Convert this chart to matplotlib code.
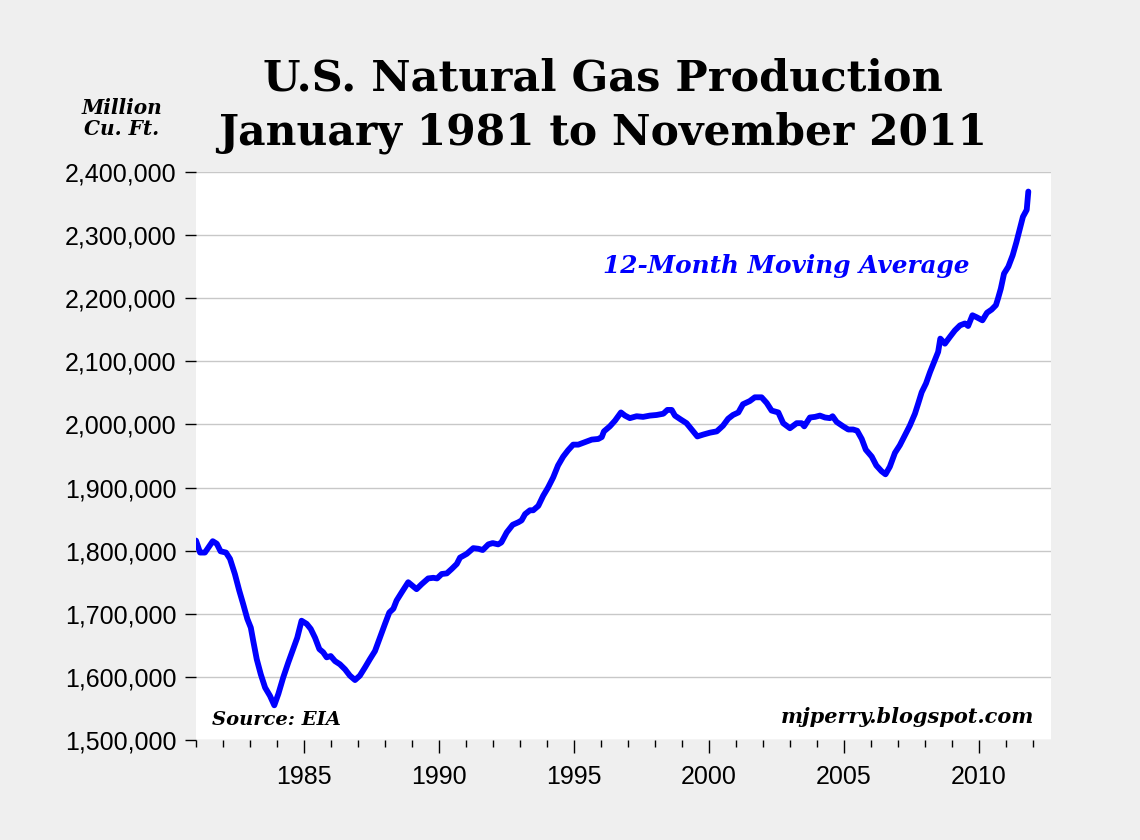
import matplotlib
matplotlib.use("Agg")
import matplotlib.pyplot as plt
from matplotlib.ticker import FuncFormatter, MultipleLocator

# 12-month moving average (year, thousand million cu. ft.)
years = [
    1981.00, 1981.15, 1981.33, 1981.46, 1981.62, 1981.77, 1981.91, 1982.11, 1982.26, 1982.44,
    1982.60, 1982.75, 1982.90, 1983.03, 1983.12, 1983.25, 1983.40, 1983.56, 1983.74, 1983.90,
    1984.05, 1984.23, 1984.42, 1984.60, 1984.75, 1984.91, 1985.10, 1985.25, 1985.41, 1985.57,
    1985.71, 1985.84, 1985.99, 1986.15, 1986.33, 1986.52, 1986.70, 1986.89, 1987.07, 1987.26,
    1987.44, 1987.63, 1987.81, 1988.00, 1988.16, 1988.31, 1988.43, 1988.62, 1988.86, 1989.03,
    1989.17, 1989.36, 1989.60, 1989.79, 1989.93, 1990.10, 1990.29, 1990.47, 1990.66, 1990.78,
    1991.03, 1991.27, 1991.46, 1991.62, 1991.83, 1991.99, 1992.19, 1992.31, 1992.51, 1992.73,
    1992.94, 1993.06, 1993.19, 1993.37, 1993.49, 1993.68, 1993.86, 1994.04, 1994.23, 1994.41,
    1994.60, 1994.78, 1994.97, 1995.16, 1995.41, 1995.66, 1995.90, 1996.03, 1996.11, 1996.33,
    1996.52, 1996.74, 1996.89, 1997.07, 1997.32, 1997.56, 1997.81, 1998.06, 1998.31, 1998.46,
    1998.62, 1998.74, 1998.95, 1999.17, 1999.36, 1999.57, 1999.79, 2000.04, 2000.29, 2000.52,
    2000.71, 2000.89, 2001.09, 2001.26, 2001.51, 2001.70, 2001.95, 2002.14, 2002.32, 2002.57,
    2002.75, 2003.00, 2003.25, 2003.43, 2003.53, 2003.74, 2003.93, 2004.11, 2004.30, 2004.48,
    2004.58, 2004.73, 2004.97, 2005.16, 2005.34, 2005.49, 2005.66, 2005.81, 2006.03, 2006.20,
    2006.39, 2006.54, 2006.70, 2006.89, 2007.07, 2007.26, 2007.44, 2007.63, 2007.75, 2007.88,
    2008.04, 2008.19, 2008.34, 2008.49, 2008.57, 2008.74, 2008.93, 2009.11, 2009.30, 2009.48,
    2009.60, 2009.76, 2009.91, 2010.13, 2010.30, 2010.47, 2010.63, 2010.71, 2010.81, 2010.93,
    2011.09, 2011.25, 2011.39, 2011.52, 2011.63, 2011.77, 2011.83,
]
production_k = [
    1816, 1797, 1797, 1805, 1815, 1811, 1799, 1797, 1787, 1763,
    1737, 1715, 1692, 1678, 1657, 1628, 1604, 1583, 1570, 1555,
    1573, 1599, 1623, 1644, 1662, 1689, 1684, 1676, 1662, 1644,
    1639, 1631, 1633, 1625, 1620, 1612, 1602, 1595, 1602, 1615,
    1628, 1641, 1662, 1684, 1702, 1708, 1721, 1734, 1750, 1744,
    1739, 1747, 1756, 1757, 1756, 1763, 1764, 1771, 1779, 1789,
    1795, 1804, 1803, 1801, 1810, 1812, 1810, 1813, 1829, 1841,
    1845, 1848, 1858, 1864, 1864, 1871, 1887, 1900, 1916, 1935,
    1949, 1959, 1968, 1968, 1972, 1976, 1977, 1980, 1989, 1997,
    2006, 2019, 2014, 2010, 2013, 2012, 2014, 2015, 2017, 2023,
    2023, 2014, 2008, 2002, 1992, 1981, 1984, 1987, 1989, 1998,
    2009, 2015, 2019, 2032, 2037, 2043, 2043, 2034, 2022, 2019,
    2002, 1994, 2002, 2002, 1997, 2011, 2012, 2014, 2011, 2010,
    2013, 2004, 1997, 1992, 1992, 1990, 1977, 1960, 1949, 1935,
    1926, 1921, 1933, 1955, 1967, 1983, 1998, 2017, 2033, 2051,
    2065, 2083, 2099, 2115, 2136, 2128, 2139, 2149, 2157, 2160,
    2156, 2173, 2170, 2165, 2177, 2182, 2189, 2200, 2215, 2239,
    2250, 2268, 2289, 2311, 2329, 2340, 2369,
]
production = [v * 1000 for v in production_k]

bg = "#EFEFEF"
fig = plt.figure(figsize=(11.4, 8.4), dpi=100, facecolor=bg)
ax = fig.add_axes([196 / 1140, 1 - 740 / 840, 855 / 1140, 568 / 840])
ax.set_facecolor("white")

ax.plot(years, production, color="#0000FF", lw=4.2, solid_joinstyle="round",
        solid_capstyle="round", zorder=3)

ax.set_xlim(1981, 2012.67)
ax.set_ylim(1500000, 2400000)
ax.yaxis.set_major_locator(MultipleLocator(100000))
ax.yaxis.set_major_formatter(FuncFormatter(lambda v, p: f"{int(v):,}"))
ax.xaxis.set_major_locator(MultipleLocator(5))
ax.xaxis.set_minor_locator(MultipleLocator(1))
ax.xaxis.set_major_formatter(FuncFormatter(lambda v, p: f"{int(v)}"))

ax.grid(axis="y", color="#C8C8C8", lw=1)
ax.set_axisbelow(True)
for s in ax.spines.values():
    s.set_visible(False)

ax.tick_params(axis="y", length=8, width=1, pad=6, labelsize=18)
ax.tick_params(axis="x", which="major", length=9, width=1, pad=9, labelsize=18)
ax.tick_params(axis="x", which="minor", length=5, width=1)
for lab in ax.get_xticklabels() + ax.get_yticklabels():
    lab.set_fontfamily("Liberation Sans")

serif = "DejaVu Serif"
fig.text(0.529, 0.907, "U.S. Natural Gas Production", ha="center", va="center",
         family=serif, weight="bold", size=31)
fig.text(0.529, 0.842, "January 1981 to November 2011", ha="center", va="center",
         family=serif, weight="bold", size=30.5)
fig.text(0.107, 0.859, "Million\nCu. Ft.", ha="center", va="center", family=serif,
         weight="bold", style="italic", size=14.5, linespacing=1.05)

ax.text(0.69, 0.835, "12-Month Moving Average", transform=ax.transAxes, ha="center",
        va="center", family=serif, weight="bold", style="italic", size=17.8, color="#0000FF")
ax.text(0.019, 0.035, "Source: EIA", transform=ax.transAxes, ha="left", va="center",
        family=serif, weight="bold", style="italic", size=14)
ax.text(0.98, 0.04, "mjperry.blogspot.com", transform=ax.transAxes, ha="right",
        va="center", family=serif, weight="bold", style="italic", size=15)

fig.savefig("out.png", dpi=100, facecolor=bg)
